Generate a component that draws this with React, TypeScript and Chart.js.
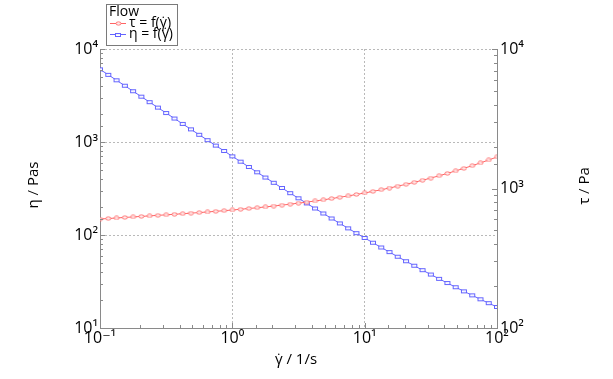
import React, { useEffect, useRef } from 'react';
import { Chart, registerables } from 'chart.js';

Chart.register(...registerables);

// Shear rate (1/s)
const shearRate = [
  0.1, 0.1155, 0.1334, 0.154, 0.1778, 0.2054, 0.2371, 0.2738, 0.3162, 0.3652, 0.4217, 0.487, 0.5623, 0.6494, 0.7499, 0.866,
  1, 1.155, 1.334, 1.54, 1.778, 2.054, 2.371, 2.738, 3.162, 3.652, 4.217, 4.87, 5.623, 6.494, 7.499, 8.66,
  10, 11.55, 13.34, 15.4, 17.78, 20.54, 23.71, 27.38, 31.62, 36.52, 42.17, 48.7, 56.23, 64.94, 74.99, 86.6, 100,
];
// Shear stress tau (Pa) – right axis
const shearStress = [
  604.0, 609.4, 614.7, 620.2, 625.4, 631.0, 636.4, 641.9, 647.6, 653.5, 659.4, 665.7, 672.1, 679.1, 686.0, 693.5,
  701.4, 709.7, 718.5, 728.1, 737.9, 748.6, 760.0, 772.0, 785.0, 798.9, 813.8, 829.6, 846.8, 865.1, 884.8, 906.1,
  928.8, 953.3, 979.9, 1008, 1039, 1072, 1108, 1146, 1188, 1234, 1283, 1337, 1395, 1457, 1526, 1601, 1683,
];
// Viscosity eta (Pas) – left axis
const viscosity = [
  6040, 5277, 4610, 4027, 3517, 3073, 2683, 2344, 2048, 1789, 1564, 1367, 1195, 1046, 914.9, 800.9,
  701.4, 614.5, 538.9, 472.8, 415.1, 364.6, 320.4, 281.9, 248.3, 218.8, 192.9, 170.4, 150.6, 133.2, 118.0, 104.6,
  92.88, 82.56, 73.48, 65.48, 58.42, 52.22, 46.72, 41.87, 37.58, 33.79, 30.43, 27.45, 24.80, 22.45, 20.35, 18.49, 16.83,
];

const xDecades = [-1, 0, 1, 2];
const xTickLabels = ['10⁻¹', '10⁰', '10¹', '10²'];
const leftDecades = [1, 2, 3, 4];
const leftTickLabels = ['10¹', '10²', '10³', '10⁴'];
const rightDecades = [2, 3, 4];
const rightTickLabels = ['10²', '10³', '10⁴'];

const legendTitle = 'Flow';
const tauLabel = 'τ = f(γ̇)';
const etaLabel = 'η = f(γ̇)';
const xTitle = 'γ̇ / 1/s';
const leftTitle = 'η / Pas';
const rightTitle = 'τ / Pa';

const RED = '#ff6464';
const BLUE = '#6464ff';
const AXIS = '#8a8a8a';
const FONT = '"Open Sans", "DejaVu Sans", sans-serif';

const isDecade = (v: number) => {
  const e = Math.log10(v);
  return Math.abs(e - Math.round(e)) < 1e-6;
};
const decadeLabel = (decades: number[], labels: string[]) => (value: any) => {
  const v = Number(value);
  if (!isDecade(v)) return '';
  const idx = decades.indexOf(Math.round(Math.log10(v)));
  return idx >= 0 ? labels[idx] : '';
};

function makeMarker(kind: 'red' | 'blue') {
  const c = document.createElement('canvas');
  if (kind === 'blue') {
    c.width = 8; c.height = 6;
    const g = c.getContext('2d')!;
    g.fillStyle = 'rgba(255,255,255,0.9)';
    g.fillRect(1, 1, 6, 4);
    g.strokeStyle = BLUE; g.lineWidth = 1;
    g.strokeRect(1.5, 1.5, 5, 3);
  } else {
    c.width = 7; c.height = 5;
    const g = c.getContext('2d')!;
    g.fillStyle = 'rgba(255,255,255,0.85)';
    g.strokeStyle = RED; g.lineWidth = 0.9;
    g.beginPath();
    g.ellipse(3.5, 2.5, 2.6, 1.6, 0, 0, Math.PI * 2);
    g.fill();
    g.stroke();
  }
  return c;
}

export default function App() {
  const ref = useRef<HTMLCanvasElement | null>(null);
  useEffect(() => {
    if (!ref.current) return;
    const redMarker = makeMarker('red');
    const blueMarker = makeMarker('blue');

    const overlay = {
      id: 'overlay',
      afterDraw(chart: any) {
        const ctx = chart.ctx;
        ctx.save();
        // inward tick marks on all axes, from the library's ticks
        ctx.strokeStyle = AXIS;
        ctx.lineWidth = 1;
        const { x, yL, yR } = chart.scales;
        const a = chart.chartArea;
        ctx.beginPath();
        for (const t of x.ticks) {
          const px = Math.round(x.getPixelForValue(t.value)) + 0.5;
          const len = isDecade(t.value) ? 5 : 3;
          ctx.moveTo(px, a.bottom);
          ctx.lineTo(px, a.bottom - len);
        }
        for (const t of yL.ticks) {
          const py = Math.round(yL.getPixelForValue(t.value)) + 0.5;
          const len = isDecade(t.value) ? 5 : 3;
          ctx.moveTo(a.left, py);
          ctx.lineTo(a.left + len, py);
        }
        for (const t of yR.ticks) {
          const py = Math.round(yR.getPixelForValue(t.value)) + 0.5;
          const len = isDecade(t.value) ? 5 : 3;
          ctx.moveTo(a.right, py);
          ctx.lineTo(a.right - len, py);
        }
        ctx.stroke();

        // Axis titles
        ctx.fillStyle = '#000';
        ctx.font = `15px ${FONT}`;
        ctx.textAlign = 'center';
        ctx.textBaseline = 'middle';
        ctx.fillText(xTitle, 296, 360);
        ctx.save();
        ctx.translate(34, 185);
        ctx.rotate(-Math.PI / 2);
        ctx.fillText(leftTitle, 0, 0);
        ctx.restore();
        ctx.save();
        ctx.translate(585, 186);
        ctx.rotate(-Math.PI / 2);
        ctx.fillText(rightTitle, 0, 0);
        ctx.restore();

        // Legend box
        ctx.fillStyle = '#fff';
        ctx.fillRect(106, 4, 71, 41);
        ctx.strokeStyle = '#7a7a7a';
        ctx.lineWidth = 1;
        ctx.strokeRect(106.5, 4.5, 71, 41);
        ctx.fillStyle = '#000';
        ctx.textAlign = 'left';
        ctx.textBaseline = 'middle';
        ctx.font = `14px ${FONT}`;
        ctx.fillText(legendTitle, 109, 12);
        const entries = [
          { y: 23.5, color: RED, marker: redMarker, label: tauLabel },
          { y: 34.5, color: BLUE, marker: blueMarker, label: etaLabel },
        ];
        for (const e of entries) {
          ctx.strokeStyle = e.color;
          ctx.beginPath();
          ctx.moveTo(110, e.y);
          ctx.lineTo(126, e.y);
          ctx.stroke();
          ctx.drawImage(e.marker, 118 - Math.floor(e.marker.width / 2), Math.round(e.y - e.marker.height / 2));
          ctx.fillStyle = '#000';
          ctx.fillText(e.label, 129, e.y);
        }
        ctx.restore();
      },
    };

    const gridColor = (ctx: any) => (ctx.tick && isDecade(ctx.tick.value) ? '#b9b9b9' : 'rgba(0,0,0,0)');
    const tickFont = { family: FONT, size: 16 };

    const chart = new Chart(ref.current, {
      type: 'line',
      data: {
        datasets: [
          {
            label: tauLabel,
            data: shearRate.map((xv, i) => ({ x: xv, y: shearStress[i] })),
            yAxisID: 'yR',
            borderColor: RED,
            borderWidth: 1,
            pointStyle: redMarker as any,
            pointRadius: 3,
            tension: 0,
          },
          {
            label: etaLabel,
            data: shearRate.map((xv, i) => ({ x: xv, y: viscosity[i] })),
            yAxisID: 'yL',
            borderColor: BLUE,
            borderWidth: 1,
            pointStyle: blueMarker as any,
            pointRadius: 3,
            tension: 0,
          },
        ],
      },
      options: {
        animation: false,
        responsive: true,
        maintainAspectRatio: false,
        layout: { padding: { top: 49, left: 0, right: 0, bottom: 0 } },
        plugins: { legend: { display: false }, tooltip: { enabled: false } },
        scales: {
          x: {
            type: 'logarithmic',
            position: 'bottom',
            min: 0.1,
            max: 100,
            afterFit: (s: any) => { s.height = 51; },
            ticks: { autoSkip: false, maxRotation: 0, padding: 1, color: '#000', font: tickFont, callback: decadeLabel(xDecades, xTickLabels) },
            grid: { color: gridColor, lineWidth: 1, drawTicks: false },
            border: { color: AXIS, width: 1, dash: [2, 2] },
          },
          yL: {
            type: 'logarithmic',
            position: 'left',
            min: 10,
            max: 10000,
            afterFit: (s: any) => { s.width = 100; },
            ticks: { autoSkip: false, padding: 2, color: '#000', font: tickFont, callback: decadeLabel(leftDecades, leftTickLabels) },
            grid: { color: gridColor, lineWidth: 1, drawTicks: false },
            border: { color: AXIS, width: 1, dash: [2, 2] },
          },
          yR: {
            type: 'logarithmic',
            position: 'right',
            min: 100,
            max: 10000,
            afterFit: (s: any) => { s.width = 116; },
            ticks: { autoSkip: false, padding: 3, color: '#000', font: tickFont, callback: decadeLabel(rightDecades, rightTickLabels) },
            grid: { drawOnChartArea: false, color: 'rgba(0,0,0,0)', drawTicks: false },
            border: { color: AXIS, width: 1 },
          },
        },
      } as any,
      plugins: [overlay],
    });
    return () => chart.destroy();
  }, []);

  return (
    <div style={{ position: 'fixed', left: 0, top: 0, width: 613, height: 379, background: '#fff' }}>
      <canvas ref={ref} />
    </div>
  );
}
